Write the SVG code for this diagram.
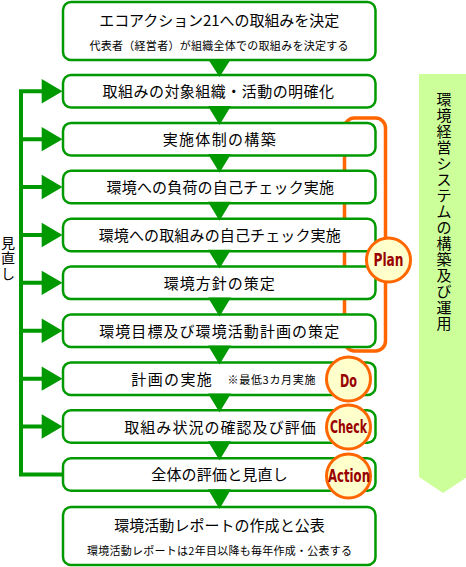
<svg xmlns="http://www.w3.org/2000/svg" width="466" height="567" viewBox="0 0 466 567">
<style>
.box{fill:#fff;stroke:#009900;stroke-width:2.5}
.t{font-family:"Noto Sans CJK JP","Noto Sans CJK SC",sans-serif;font-size:15px;fill:#000;text-anchor:middle}
.s{font-size:11px}
.st{text-anchor:start}
.pdca{fill:#ffffcc;stroke:#ff6600;stroke-width:3}
.pt{font-family:"Liberation Sans Narrow","DejaVu Sans Condensed","Liberation Sans",sans-serif;font-weight:bold;font-size:18px;fill:#990000;text-anchor:middle}
.arr{fill:#009900}
.fb{fill:none;stroke:#009900;stroke-width:4;stroke-linejoin:miter}
</style>
<g id="banner">
<polygon points="419,74 467,74 467,477 443,493 419,477" fill="#ccff99"/>
<text class="t"><tspan x="444" y="105">環</tspan><tspan x="444" y="121">境</tspan><tspan x="444" y="137">経</tspan><tspan x="444" y="153">営</tspan><tspan x="444" y="169">シ</tspan><tspan x="444" y="185">ス</tspan><tspan x="444" y="201">テ</tspan><tspan x="444" y="217">ム</tspan><tspan x="444" y="233">の</tspan><tspan x="444" y="249">構</tspan><tspan x="444" y="265">築</tspan><tspan x="444" y="281">及</tspan><tspan x="444" y="297">び</tspan><tspan x="444" y="313">運</tspan><tspan x="444" y="329">用</tspan></text>
</g>
<g id="plan-bracket">
<rect x="344.5" y="118" width="41" height="233" rx="10" fill="none" stroke="#ff6600" stroke-width="3.5"/>
</g>
<g id="connectors">
<path class="fb" d="M42 91.25 H21 V474.45 H63"/>
<path class="fb" d="M21 139.15 H42 M21 187.05 H42 M21 234.95 H42 M21 282.85 H42 M21 330.75 H42 M21 378.65 H42 M21 426.55 H42"/>
<polygon class="arr" points="41.7,79.05 41.7,103.45 62.5,91.25"/>
<polygon class="arr" points="41.7,126.95 41.7,151.35 62.5,139.15"/>
<polygon class="arr" points="41.7,174.85 41.7,199.25 62.5,187.05"/>
<polygon class="arr" points="41.7,222.75 41.7,247.15 62.5,234.95"/>
<polygon class="arr" points="41.7,270.65 41.7,295.05 62.5,282.85"/>
<polygon class="arr" points="41.7,318.55 41.7,342.95 62.5,330.75"/>
<polygon class="arr" points="41.7,366.45 41.7,390.85 62.5,378.65"/>
<polygon class="arr" points="41.7,414.35 41.7,438.75 62.5,426.55"/>
</g>
<g id="feedback-label">
<text class="t" style="font-size:14px"><tspan x="8" y="247.5">見</tspan><tspan x="8" y="263">直</tspan><tspan x="8" y="278.5">し</tspan></text>
</g>
<g id="box1"><rect class="box" x="63" y="2" width="312.5" height="58" rx="8"/>
<text class="t" x="219.2" y="26" textLength="240">エコアクション21への取組みを決定</text>
<text class="t s" x="219" y="49.5" textLength="259">代表者（経営者）が組織全体での取組みを決定する</text></g>
<g id="box2"><rect class="box" x="63" y="75" width="312.5" height="32.5" rx="8"/>
<text class="t" x="218.3" y="97.25" textLength="231.5">取組みの対象組織・活動の明確化</text></g>
<g id="box3"><rect class="box" x="63" y="122.9" width="312.5" height="32.5" rx="8"/>
<text class="t" x="219.2" y="145.15" textLength="113">実施体制の構築</text></g>
<g id="box4"><rect class="box" x="63" y="170.8" width="312.5" height="32.5" rx="8"/>
<text class="t" x="220.3" y="193.05" textLength="227.5">環境への負荷の自己チェック実施</text></g>
<g id="box5"><rect class="box" x="63" y="218.7" width="312.5" height="32.5" rx="8"/>
<text class="t" x="219.7" y="240.95" textLength="242">環境への取組みの自己チェック実施</text></g>
<g id="box6"><rect class="box" x="63" y="266.6" width="312.5" height="32.5" rx="8"/>
<text class="t" x="219.2" y="288.85" textLength="111">環境方針の策定</text></g>
<g id="box7"><rect class="box" x="63" y="314.5" width="312.5" height="32.5" rx="8"/>
<text class="t" x="219.2" y="336.75" textLength="240">環境目標及び環境活動計画の策定</text></g>
<g id="box8"><rect class="box" x="63" y="362.4" width="312.5" height="32.5" rx="8"/>
<text class="t st" x="131.3" y="384.65" textLength="80.5">計画の実施</text>
<text class="t s st" x="227.5" y="384.3" textLength="88">※最低3カ月実施</text></g>
<g id="box9"><rect class="box" x="63" y="410.3" width="312.5" height="32.5" rx="8"/>
<text class="t" x="220" y="432.55" textLength="191.5">取組み状況の確認及び評価</text></g>
<g id="box10"><rect class="box" x="63" y="458.2" width="312.5" height="32.5" rx="8"/>
<text class="t" x="219.5" y="480.45" textLength="136.5">全体の評価と見直し</text></g>
<g id="box11"><rect class="box" x="63" y="507" width="312.5" height="58" rx="8"/>
<text class="t" x="219.5" y="531" textLength="210.5">環境活動レポートの作成と公表</text>
<text class="t s" x="219.5" y="555" textLength="265">環境活動レポートは2年目以降も毎年作成・公表する</text></g>
<g id="down-arrows">
<polygon class="arr" points="208,59 231,59 219.5,77"/>
<polygon class="arr" points="208,106 231,106 219.5,124.9"/>
<polygon class="arr" points="208,153.9 231,153.9 219.5,172.8"/>
<polygon class="arr" points="208,201.8 231,201.8 219.5,220.7"/>
<polygon class="arr" points="208,249.7 231,249.7 219.5,268.6"/>
<polygon class="arr" points="208,297.6 231,297.6 219.5,316.5"/>
<polygon class="arr" points="208,345.5 231,345.5 219.5,364.4"/>
<polygon class="arr" points="208,393.4 231,393.4 219.5,412.3"/>
<polygon class="arr" points="208,441.3 231,441.3 219.5,460.2"/>
<polygon class="arr" points="208,489.2 231,489.2 219.5,509"/>
</g>
<g id="plan"><circle class="pdca" cx="388.5" cy="260" r="22"/>
<text class="pt" x="388.5" y="266" textLength="30" lengthAdjust="spacingAndGlyphs">Plan</text></g>
<g id="do"><circle class="pdca" cx="348.5" cy="379" r="22"/>
<text class="pt" x="348.5" y="386.5" textLength="17" lengthAdjust="spacingAndGlyphs">Do</text></g>
<g id="check"><circle class="pdca" cx="348.5" cy="427" r="22"/>
<text class="pt" x="348.5" y="433" textLength="37" lengthAdjust="spacingAndGlyphs">Check</text></g>
<g id="action"><circle class="pdca" cx="348.5" cy="476" r="22"/>
<text class="pt" x="349" y="482" textLength="42" lengthAdjust="spacingAndGlyphs">Action</text></g>
</svg>
